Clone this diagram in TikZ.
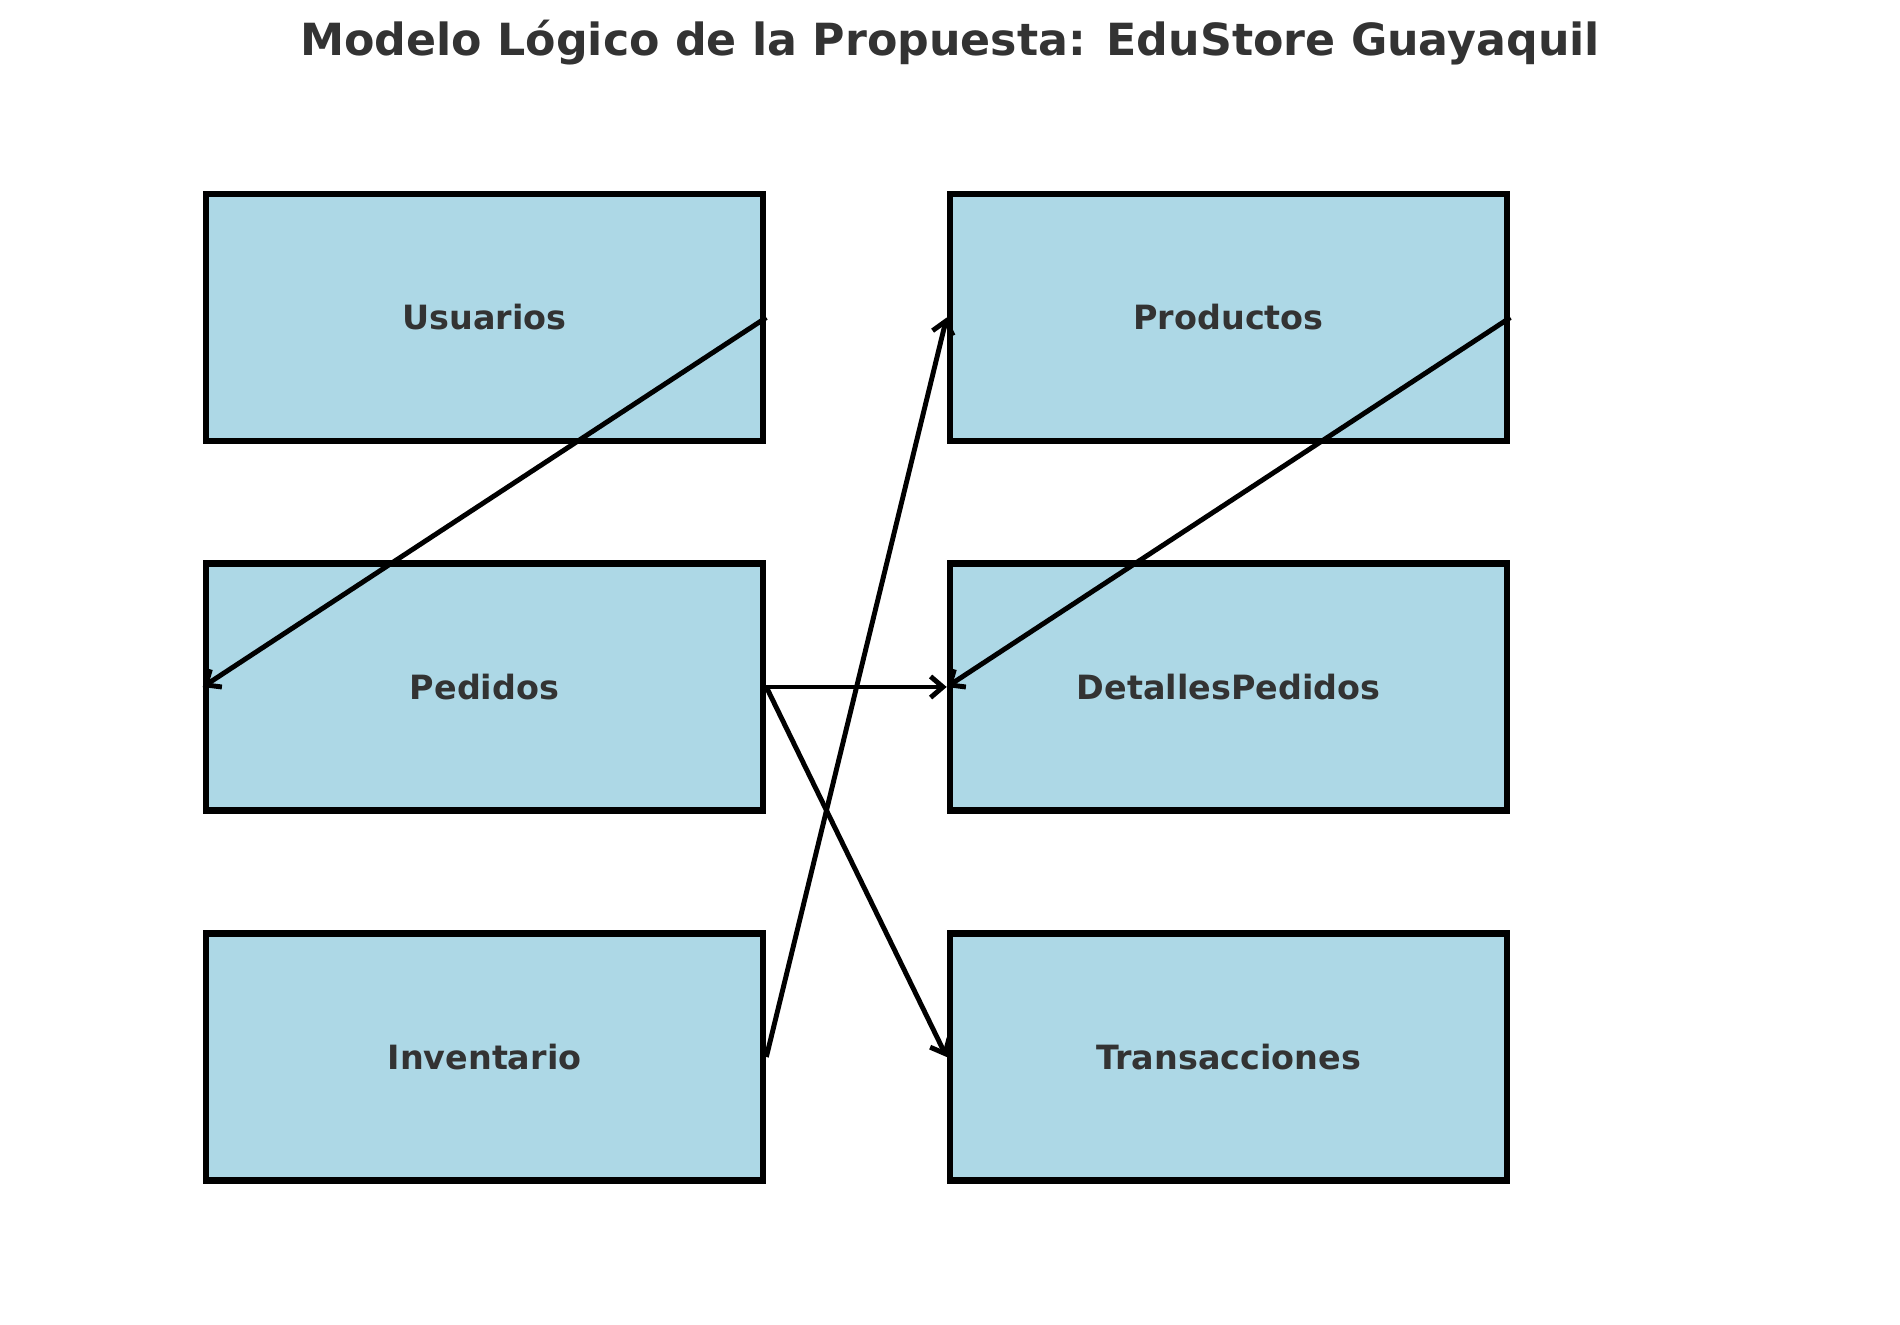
\documentclass[tikz,border=0pt]{standalone}
\usepackage{fontspec}
\setmainfont{DejaVu Sans}
\usetikzlibrary{arrows.meta}
\definecolor{boxfill}{HTML}{ADD8E6}
\definecolor{txt}{HTML}{333333}
\begin{document}
\begin{tikzpicture}[x=0.01cm,y=-0.01cm,
  entity/.style={draw=black,fill=boxfill,line width=1.8pt,minimum width=5.57cm,minimum height=2.47cm,inner sep=0pt,
    font=\fontsize{9.5pt}{11pt}\selectfont\bfseries,text=txt},
  link/.style={line width=1.4pt,-{Straight Barb[length=3.5pt,width=6pt,line width=1.4pt]}}]
\useasboundingbox (0,0) rectangle (1900,1324);
\node[font=\fontsize{12.6pt}{15pt}\selectfont\bfseries,text=txt] (title) at (950,43) {Modelo Lógico de la Propuesta: EduStore Guayaquil};
\node[entity] (usu) at (484.5,317.5) {Usuarios};
\node[entity] (ped) at (484.5,687) {Pedidos};
\node[entity] (inv) at (484.5,1057) {Inventario};
\node[entity] (pro) at (1228.5,317.5) {Productos};
\node[entity] (det) at (1228.5,687) {DetallesPedidos};
\node[entity] (tra) at (1228.5,1057) {Transacciones};
\draw[link] (usu.east) -- (ped.west);
\draw[link] (ped.east) -- (det.west);
\draw[link] (ped.east) -- (tra.west);
\draw[link] (inv.east) -- (pro.west);
\draw[link] (pro.east) -- (det.west);
\end{tikzpicture}
\end{document}
